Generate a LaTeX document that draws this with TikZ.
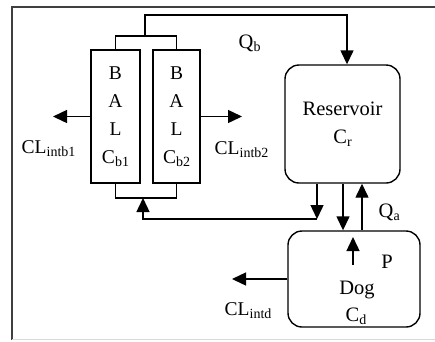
\documentclass[tikz,border=0pt]{standalone}
\usepackage{fontspec}
\setmainfont{Liberation Serif}
\usetikzlibrary{arrows.meta,calc}
\newcommand\sbs[1]{\raisebox{-3pt}{\fontsize{14}{14}\selectfont #1}}
\begin{document}
\begin{tikzpicture}[x=1pt,y=-1pt,
  line width=1.4pt,
  arr/.style={-{Triangle[length=14pt,width=13pt]}},
  box/.style={draw,inner sep=0pt,line width=1.4pt},
  lab/.style={inner sep=0pt,anchor=base west,font=\fontsize{19.5}{19.5}\selectfont},
  big/.style={inner sep=0pt,anchor=base,font=\fontsize{20.5}{20.5}\selectfont}]
\useasboundingbox (0,0) rectangle (435,341);
% frame
\draw[black!75,line width=1.3pt] (12,340) -- (12,7) -- (435,7);
\draw[gray!30,line width=0.8pt] (12,339.5) -- (435,339.5);
% boxes
\node[box,minimum width=49pt,minimum height=133pt,align=center,
      font=\fontsize{19.5}{28}\selectfont] (bal1) at (115.5,116.5) {B\\A\\L\\C\sbs{b1}};
\node[box,minimum width=47pt,minimum height=133pt,align=center,
      font=\fontsize{19.5}{28}\selectfont] (bal2) at (176.5,116.5) {B\\A\\L\\C\sbs{b2}};
\node[box,rounded corners=14pt,minimum width=115pt,minimum height=118pt,align=center,
      font=\fontsize{20.5}{28}\selectfont] (res) at (342.5,124) {Reservoir\\C\sbs{r}};
\node[box,rounded corners=14pt,minimum width=132pt,minimum height=96pt] (dog) at (354,279) {};
% texts
\node[big] (dogt) at (357,294) {Dog};
\node[big] (cd) at (356,321) {C\sbs{d}};
\node[big] (p) at (387,268) {P};
\node[lab,font=\fontsize{20.5}{20.5}\selectfont] (qa) at (378,217) {Q\sbs{a}};
\node[lab,font=\fontsize{20.5}{20.5}\selectfont] (qb) at (238,48) {Q\sbs{b}};
\node[lab] (cl1) at (21,153) {CL\sbs{intb1}};
\node[lab] (cl2) at (214,154) {CL\sbs{intb2}};
\node[lab] (cld) at (224,315) {CL\sbs{intd}};
% coordinates
\coordinate (tj) at (145,36);
\coordinate (tt) at (145,15);
\coordinate (bj) at (143,198);
\coordinate (bl) at (143,219);
\coordinate (br) at (317,219);
\coordinate (e1) at (53,116.5);
\coordinate (e2) at (242,116.5);
\coordinate (ed) at (232,279);
\coordinate (pa) at (353,265);
\coordinate (pb) at (353,237);
% connectors
\draw (bal1.north) |- (tj) -| (bal2.north);
\draw[arr] (tj) -- (tt) -| ($(res.north)+(4.5,0)$);
\draw (bal1.south) |- (bj) -| (bal2.south);
\draw[arr] ($(res.south)+(-25.5,0)$) -- (br);
\draw[arr] (br) -- (bl) -- (bj);
\draw[arr] ($(res.south)+(0.5,0)$) -- ($(dog.north)+(-11,0)$);
\draw[arr] ($(dog.north)+(8,0)$) -- ($(res.south)+(19.5,0)$);
\draw[arr] (pa) -- (pb);
\draw[arr] (bal1.west) -- (e1);
\draw[arr] (bal2.east) -- (e2);
\draw[arr] (dog.west) -- (ed);
\end{tikzpicture}
\end{document}
